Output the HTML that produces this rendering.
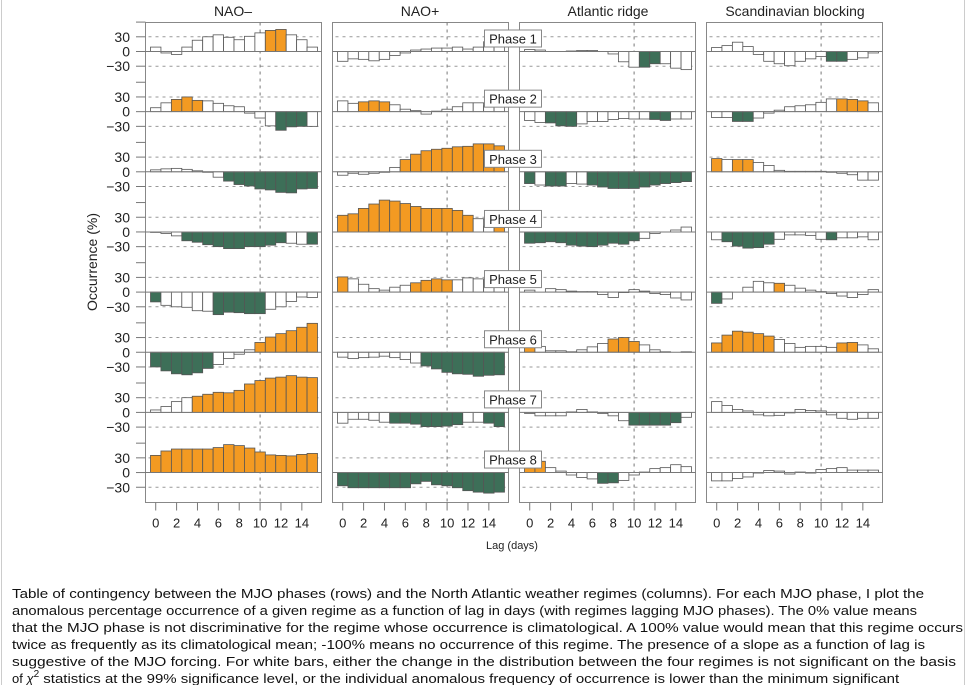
<!DOCTYPE html>
<html><head><meta charset="utf-8"><style>
html,body{margin:0;padding:0;background:#fff;}
body{width:966px;height:685px;overflow:hidden;position:relative;}
svg{position:absolute;left:0;top:0;}
</style></head><body>
<svg id="s" width="966" height="685" xmlns="http://www.w3.org/2000/svg" font-family="Liberation Sans, Arial, sans-serif">
<line x1="1.5" y1="0" x2="1.5" y2="685" stroke="#ccc"/>
<line x1="964.5" y1="0" x2="964.5" y2="685" stroke="#ccc"/>
<g font-size="14" fill="#222" text-anchor="middle">
<text x="233" y="16">NAO–</text>
<text x="420" y="16">NAO+</text>
<text x="608" y="16">Atlantic ridge</text>
<text x="795" y="16">Scandinavian blocking</text>
</g>
<text x="0" y="0" font-size="14" fill="#222" text-anchor="middle" transform="translate(97,262) rotate(-90)">Occurrence (%)</text>
<text x="512" y="549" font-size="11" fill="#222" text-anchor="middle">Lag (days)</text>
<g id="plots"></g>
<g font-size="13" fill="#111">
<text x="12" y="598" textLength="912" lengthAdjust="spacingAndGlyphs">Table of contingency between the MJO phases (rows) and the North Atlantic weather regimes (columns). For each MJO phase, I plot the</text>
<text x="12" y="615" textLength="905" lengthAdjust="spacingAndGlyphs">anomalous percentage occurrence of a given regime as a function of lag in days (with regimes lagging MJO phases). The 0% value means</text>
<text x="12" y="632" textLength="951" lengthAdjust="spacingAndGlyphs">that the MJO phase is not discriminative for the regime whose occurrence is climatological. A 100% value would mean that this regime occurs</text>
<text x="12" y="649" textLength="913" lengthAdjust="spacingAndGlyphs">twice as frequently as its climatological mean; -100% means no occurrence of this regime. The presence of a slope as a function of lag is</text>
<text x="12" y="666" textLength="944" lengthAdjust="spacingAndGlyphs">suggestive of the MJO forcing. For white bars, either the change in the distribution between the four regimes is not significant on the basis</text>
<text x="12" y="683">of <tspan font-style="italic">χ</tspan><tspan dy="-6" font-size="10">2</tspan><tspan dy="6" textLength="860" lengthAdjust="spacingAndGlyphs"> statistics at the 99% significance level, or the individual anomalous frequency of occurrence is lower than the minimum significant</tspan></text>
</g>
</svg>
<script>
var D=[
// NAO-
[
"9w -3w -6w 9w 23w 30w 34w 29w 24w 31w 38w 43o 45o 34w 24w 9w",
"8w 18w 25o 30o 23o 22w 17w 12w 10w -3w -13w -29w -38g -31g -30g -30w",
"4w 6w 7w 5w 2w -1w -11w -19g -26g -29g -35g -37g -42g -43g -35g -34g",
"-1w -3w -8w -18g -21g -26g -30g -34g -34g -30g -30g -27g -22g -23w -25w -25g",
"-20g -27w -30w -31w -38w -39w -46g -41g -42g -44g -44g -35w -30w -19w -10w -11w",
"-30g -38g -44g -46g -42g -33g -25w -13w -4w 5w 20o 31o 38o 44o 51o 59o",
"5w 12w 22w 30w 33o 37o 41o 40o 45o 58o 65o 70o 72o 75o 72o 71o",
"35o 44o 48o 48o 48o 48o 51o 57o 55o 50o 42o 36o 35o 34o 37o 39o"],
// NAO+
[
"-20w -15w -16w -19w -16w -8w -3w 3w 5w 7w 7w 9w 5w 9w 20w 18w",
"22w 17w 20o 22o 20o 14w 5w 2w -5w 1w 5w 10w 18w 18w 12w 11w",
"-7w -3w -5w -3w -1w 9w 25o 36o 43o 46o 48o 51o 52o 57o 57o 53o",
"34o 37o 48o 57o 65o 63o 58o 52o 48o 48o 48o 44o 34o 27w 12w 12o",
"31o 27w 16w 7w 4w 10w 14w 19o 24o 27o 25o 25w 29w 27w 24w 20w",
"-10w -13w -11w -10w -8w -11w -15w -22w -28g -34g -41g -44g -45g -49g -47g -46g",
"-22w -14w -14w -16w -20w -22g -22g -24g -29g -29g -28g -25g -20w -20w -22g -29g",
"-27g -31g -31g -31g -31g -31g -31g -23g -18g -25g -27g -31g -37g -40g -42g -40g"],
// Atlantic ridge
[
"4w 3w 0w 0w 1w 2w 2w 0w -5w -21w -32w -32g -25g -25w -34w -37w",
"-18w -22w -23g -29g -30g -25w -20w -20w -16w -14w -15w -15w -16g -18g -15w -15w",
"-24g -27w -29g -29g -24w -25w -27g -31g -34g -34g -34g -31g -27g -24g -22g -20g",
"-23g -22g -20g -22g -27g -29g -30g -27g -23g -25g -18g -13w -3w 0w 4w 10w",
"4w 0w 7w 5w 2w 1w 1w -5w -11w -1w 5w 2w -3w -5w -12w -16w",
"11o 12w 3w 3w 1w 5w 11w 18w 27o 30o 22o 15w 5w 1w 0w 1w",
"-2w -7w -7w -7w 1w 6w 1w -2w -7w -17w -26g -26g -26g -26g -21g -10w",
"11o 23o 10w 3w -5w -10w -13w -22g -21g -16w -5w 1w 8w 10w 16w 12w"],
// Scandinavian
[
"8w 12w 19w 10w -6w -20w -25w -29w -20w -15w -10w -20g -20g -16w -13w -3w",
"-12w -12w -20g -20g -13w -3w 3w 10w 12w 14w 19w 26w 26o 25o 22o 18w",
"27o 25w 25o 25o 19w 13w 3w 1w 1w 1w 1w -1w -3w -6w -17w -17w",
"-16w -20g -29g -33g -32g -25g -15w -6w -6w -7w -15w -16g -12w -12w -10w -16w",
"-23g -14w 0w 10w 22w 19w 18o 14w 8w 4w 1w -3w -8w -11w -5w 5w",
"19o 35o 43o 41o 38o 33o 26w 18w 10w 12w 12w 10w 19o 20o 15w 7w",
"22w 14w 6w 3w -5w -7w -6w -1w 6w 4w 3w -5w -12w -14w -12w -12w",
"-17w -17w -12w -9w -1w 4w 3w -3w 1w -1w 6w 8w 10w 5w 5w 5w"]
];
var L=[145.5,332.5,519.5,706.5],W=176,TOP=22.5,BOT=502.5,BW=167/16,SC=0.49;
var NS="http://www.w3.org/2000/svg",g=document.getElementById("plots"),h="";
function z(k){return 51.5+60.15*k;}
var col={w:"#fff",o:"#f39a22",g:"#3d6f58"};
for(var p=0;p<4;p++){
 var x0=L[p];
 h+='<rect x="'+x0+'" y="'+TOP+'" width="'+W+'" height="'+(BOT-TOP)+'" fill="#fff" stroke="#888" stroke-width="1"/>';
 var vx=x0+5+10.5*BW;
 h+='<line x1="'+vx+'" y1="'+TOP+'" x2="'+vx+'" y2="'+BOT+'" stroke="#777" stroke-width="1" stroke-dasharray="3,4"/>';
 for(var k=0;k<8;k++){
  var zy=z(k);
  [-14.7,14.7].forEach(function(d){h+='<line x1="'+(x0+3)+'" y1="'+(zy+d)+'" x2="'+(x0+W-3)+'" y2="'+(zy+d)+'" stroke="#999" stroke-width="1" stroke-dasharray="3,4"/>';});
  var vals=D[p][k].split(" ");
  for(var i=0;i<16;i++){
   var s=vals[i],c=s.slice(-1),v=parseFloat(s),hh=Math.abs(v)*SC,bx=x0+5+i*BW;
   var y=v>=0?zy-hh:zy;
   if(hh>0.3)h+='<rect x="'+bx.toFixed(2)+'" y="'+y.toFixed(2)+'" width="'+BW.toFixed(2)+'" height="'+hh.toFixed(2)+'" fill="'+col[c]+'" stroke="#555" stroke-width="0.8"/>';
  }
  h+='<line x1="'+x0+'" y1="'+zy+'" x2="'+(x0+W)+'" y2="'+zy+'" stroke="#777" stroke-width="1"/>';
  if(p==0){
   [[-14.7,"30"],[0,"0"],[14.7,"−30"]].forEach(function(t){
    h+='<line x1="136" y1="'+(zy+t[0])+'" x2="'+x0+'" y2="'+(zy+t[0])+'" stroke="#777"/>';
    h+='<text x="130" y="'+(zy+t[0]+5)+'" font-size="14" fill="#222" text-anchor="end">'+t[1]+'</text>';
   });
   h+='<line x1="136" y1="'+(zy-29.4)+'" x2="'+x0+'" y2="'+(zy-29.4)+'" stroke="#777"/>';
  }
 }
 for(var t=0;t<=14;t+=2){
  var tx=x0+5+(t+0.5)*BW;
  h+='<line x1="'+tx+'" y1="'+BOT+'" x2="'+tx+'" y2="'+(BOT+8)+'" stroke="#777"/>';
  h+='<text x="'+tx+'" y="'+(BOT+25)+'" font-size="13" fill="#222" text-anchor="middle">'+t+'</text>';
 }
}
for(var k=0;k<8;k++){
 var zy=z(k);
 h+='<rect x="484.5" y="'+(zy-21.5)+'" width="57" height="17" fill="#fff" stroke="#888"/>';
 h+='<text x="513" y="'+(zy-8)+'" font-size="13" fill="#222" text-anchor="middle">Phase '+(k+1)+'</text>';
}
g.innerHTML=h;
</script>
</body></html>
